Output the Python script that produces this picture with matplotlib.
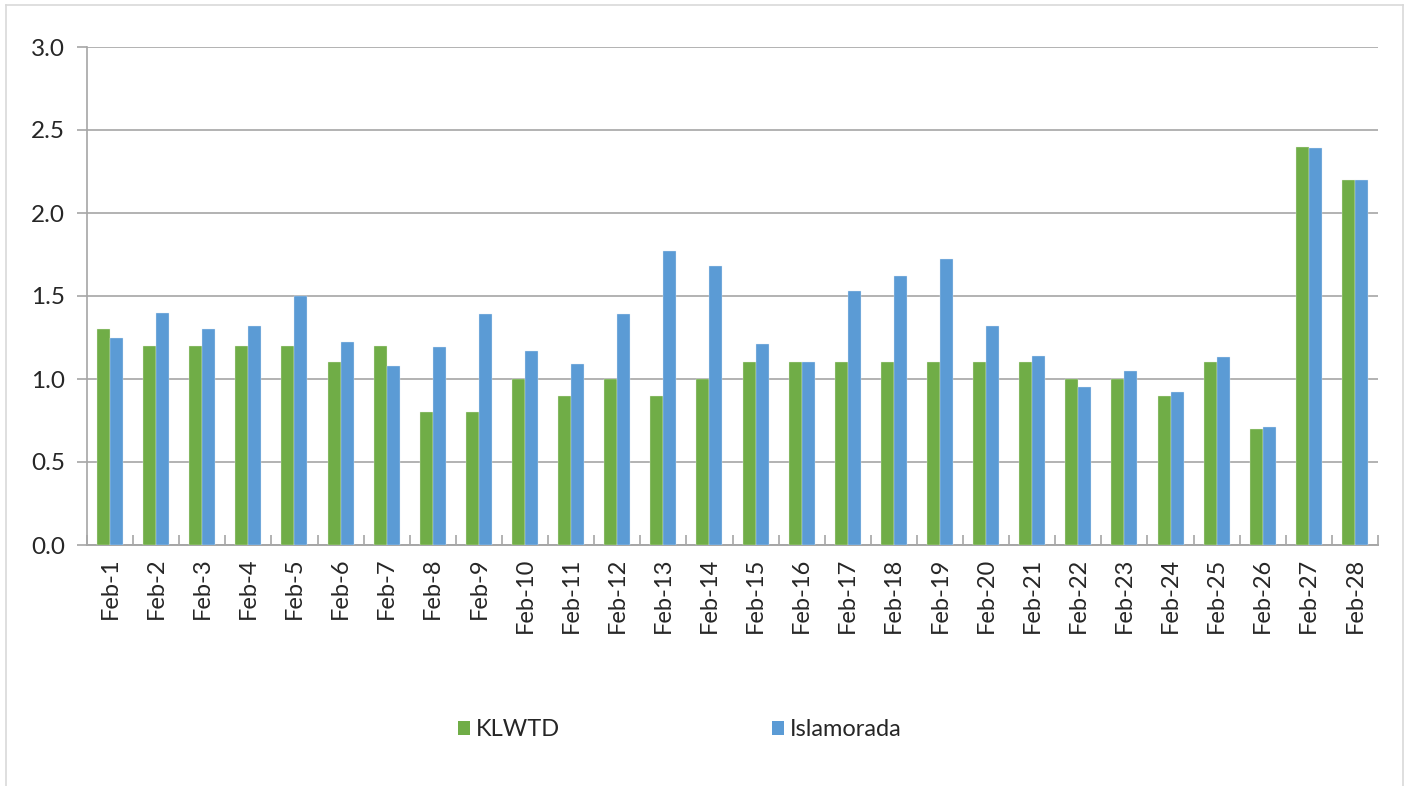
import matplotlib
matplotlib.use("Agg")
import matplotlib.pyplot as plt
from matplotlib.lines import Line2D
from matplotlib.patches import Patch
import numpy as np

categories = [f"Feb-{d}" for d in range(1, 29)]
klwtd = [1.3, 1.2, 1.2, 1.2, 1.2, 1.1, 1.2, 0.8, 0.8, 1.0, 0.9, 1.0, 0.9, 1.0,
         1.1, 1.1, 1.1, 1.1, 1.1, 1.1, 1.1, 1.0, 1.0, 0.9, 1.1, 0.7, 2.4, 2.2]
islamorada = [1.25, 1.40, 1.30, 1.32, 1.50, 1.22, 1.08, 1.19, 1.39, 1.17, 1.09, 1.39, 1.77, 1.68,
              1.21, 1.10, 1.53, 1.62, 1.72, 1.32, 1.14, 0.95, 1.05, 0.92, 1.13, 0.71, 2.39, 2.20]
series_names = ["KLWTD", "Islamorada"]
yticks = [0.0, 0.5, 1.0, 1.5, 2.0, 2.5, 3.0]

GREEN = "#70AD47"
BLUE = "#5B9BD5"
GRID = "#A6A6A6"
TEXT = "#262626"

plt.rcParams['font.family'] = ['Lato', 'DejaVu Sans']

W, H = 1408, 786
fig = plt.figure(figsize=(W / 100, H / 100), dpi=100)
ax = fig.add_axes([87 / W, 1 - 545 / H, (1378 - 87) / W, (545 - 47) / H])

x = np.arange(len(categories))
bw = 0.282
ax.bar(x - bw / 2, klwtd, width=bw, color=GREEN, edgecolor="#E8F0E0", linewidth=0.25, zorder=3)
ax.bar(x + bw / 2, islamorada, width=bw, color=BLUE, edgecolor="#E0EAF5", linewidth=0.25, zorder=3)

ax.set_xlim(-0.5, len(categories) - 0.5)
ax.set_ylim(0, 3.0)
ax.set_yticks(yticks)
ax.set_yticklabels([f"{v:.1f}" for v in yticks], fontsize=17.5, color=TEXT)
ax.set_xticks(x)
ax.set_xticklabels(categories, rotation=90, fontsize=17, color=TEXT)
ax.tick_params(axis='x', which='major', length=0, pad=9)
ax.set_xticks(np.arange(-0.5, len(categories)), minor=True)
ax.tick_params(axis='x', which='minor', direction='in', length=7, color=GRID, width=1.2)
ax.tick_params(axis='y', which='major', direction='out', length=7, color=GRID, width=1.2, pad=9)

ax.yaxis.grid(True, color=GRID, linewidth=1.2, zorder=0)
ax.set_axisbelow(True)
for s in ['top', 'right']:
    ax.spines[s].set_visible(False)
ax.spines['left'].set_color(GRID)
ax.spines['bottom'].set_color(GRID)
ax.spines['left'].set_linewidth(1.2)
ax.spines['bottom'].set_linewidth(1.4)

handles = [Patch(facecolor=GREEN), Patch(facecolor=BLUE)]
fs = 17
em = fs * 100 / 72
fig.legend(handles, series_names, loc='center left', bbox_to_anchor=(458 / W, 1 - 730 / H),
           ncol=2, frameon=False, fontsize=fs, borderpad=0, borderaxespad=0,
           handlelength=12 / em, handleheight=12 / em, handletextpad=6 / em,
           columnspacing=(312 - 12 - 6 - 82) / em, labelcolor=TEXT)

# outer chart border
bc = "#D9D9D9"
fig.add_artist(Line2D([6 / W, 6 / W], [0, 1 - 5 / H], transform=fig.transFigure, color=bc, lw=1.2))
fig.add_artist(Line2D([1403 / W, 1403 / W], [0, 1 - 5 / H], transform=fig.transFigure, color=bc, lw=1.2))
fig.add_artist(Line2D([6 / W, 1403 / W], [1 - 5 / H, 1 - 5 / H], transform=fig.transFigure, color=bc, lw=1.2))

fig.savefig("out.png", dpi=100)
